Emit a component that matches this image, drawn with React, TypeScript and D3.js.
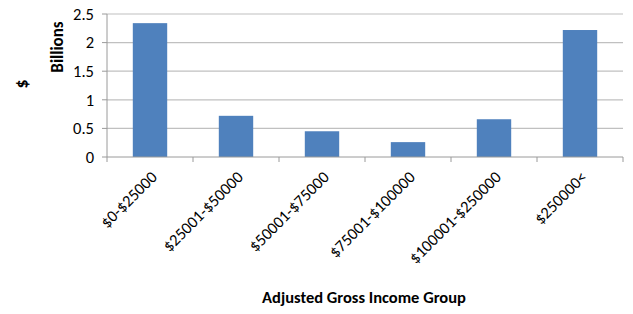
import React from 'react';
import * as d3 from 'd3';

const categories = ['$0-$25000', '$25001-$50000', '$50001-$75000', '$75001-$100000', '$100001-$250000', '$250000<'];
const values = [2.34, 0.72, 0.45, 0.26, 0.66, 2.22];
const yTicks = [0, 0.5, 1, 1.5, 2, 2.5];

const width = 633;
const height = 314;
const margin = { top: 14, right: 10, bottom: 157, left: 107 };

const App = () => {
  const innerWidth = width - margin.left - margin.right;
  const innerHeight = height - margin.top - margin.bottom;

  const x = d3.scaleBand().domain(categories).range([0, innerWidth]).paddingInner(0.6).paddingOuter(0.3);
  const yScale = d3.scaleLinear().domain([0, 2.5]).range([innerHeight, 0]);
  const step = innerWidth / categories.length;
  const font = 'Carlito, Calibri, "Liberation Sans", Arial, sans-serif';

  return (
    <svg width={width} height={height} style={{ position: 'absolute', left: 0, top: 0 }} fontFamily={font}>
      <g transform={`translate(${margin.left}, ${margin.top})`}>
        {/* gridlines */}
        {yTicks.filter(t => t > 0).map(t => (
          <line key={t} x1={0} x2={innerWidth} y1={yScale(t)} y2={yScale(t)} stroke="#c0c0c0" strokeWidth={1.2} />
        ))}
        {/* y axis */}
        <line x1={0} x2={0} y1={0} y2={innerHeight} stroke="#9a9a9a" />
        {yTicks.map(t => (
          <g key={t}>
            <line x1={-5} x2={0} y1={yScale(t)} y2={yScale(t)} stroke="#9a9a9a" />
            <text x={-13} y={yScale(t)} dy="0.35em" textAnchor="end" fontSize={16.5} fill="#000">{t}</text>
          </g>
        ))}
        {/* bars */}
        {categories.map((c, i) => (
          <rect key={c} x={x(c)} y={yScale(values[i])} width={x.bandwidth()} height={innerHeight - yScale(values[i])} fill="#4f81bd" />
        ))}
        {/* x axis */}
        <line x1={0} x2={innerWidth} y1={innerHeight} y2={innerHeight} stroke="#9a9a9a" />
        {d3.range(categories.length + 1).map(i => (
          <line key={i} x1={i * step} x2={i * step} y1={innerHeight} y2={innerHeight + 5} stroke="#9a9a9a" />
        ))}
        {categories.map((c, i) => (
          <text key={c} transform={`translate(${(i + 0.5) * step + 4}, ${innerHeight + 17}) rotate(-45)`}
            textAnchor="end" dy="0.35em" fontSize={16.5} fill="#000">{c}</text>
        ))}
      </g>
      <text x={margin.left + innerWidth / 2 - 1} y={303} textAnchor="middle" fontSize={16.5} fontWeight="bold">Adjusted Gross Income Group</text>
      <text transform="translate(28, 84) rotate(-90)" textAnchor="middle" fontSize={18} fontWeight="bold">$</text>
      <text transform="translate(63, 47) rotate(-90)" textAnchor="middle" fontSize={17} fontWeight="bold">Billions</text>
    </svg>
  );
};

export default App;
